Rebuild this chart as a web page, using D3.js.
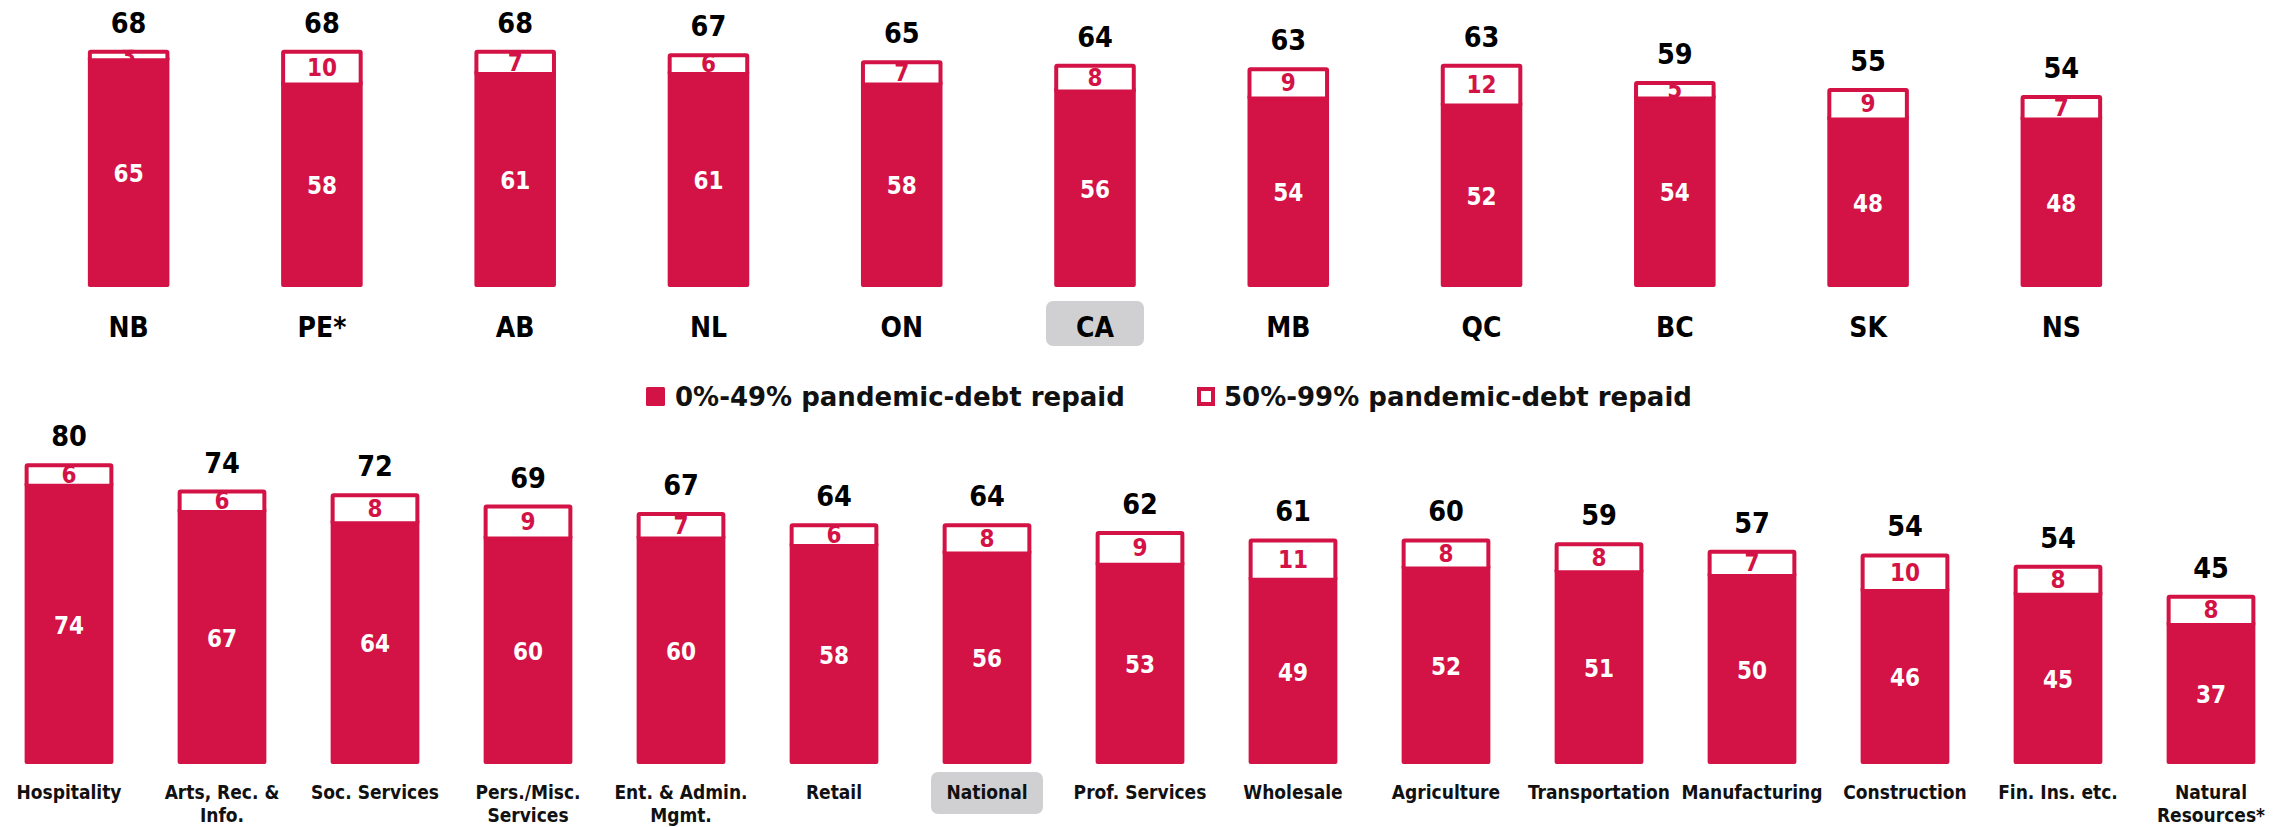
<!DOCTYPE html>
<meta charset="utf-8">
<script src="https://d3js.org/d3.v7.min.js"></script>
<style>
  body { margin: 0; background: #fff; }
  text { font-family: "DejaVu Sans Condensed", "DejaVu Sans", sans-serif; font-stretch: condensed; }
</style>
<div id="chart"></div>
<script>

// provinces (top panel)
const provinces = ["NB", "PE*", "AB", "NL", "ON", "CA", "MB", "QC", "BC", "SK", "NS"];
const provLow   = [65, 58, 61, 61, 58, 56, 54, 52, 54, 48, 48];
const provHigh  = [3, 10, 7, 6, 7, 8, 9, 12, 5, 9, 7];
const provTotal = [68, 68, 68, 67, 65, 64, 63, 63, 59, 55, 54];

// industries (bottom panel)
const industries = ["Hospitality", "Arts, Rec. &\nInfo.", "Soc. Services", "Pers./Misc.\nServices",
  "Ent. & Admin.\nMgmt.", "Retail", "National", "Prof. Services", "Wholesale", "Agriculture",
  "Transportation", "Manufacturing", "Construction", "Fin. Ins. etc.", "Natural\nResources*"];
const indLow   = [74, 67, 64, 60, 60, 58, 56, 53, 49, 52, 51, 50, 46, 45, 37];
const indHigh  = [6, 6, 8, 9, 7, 6, 8, 9, 11, 8, 8, 7, 10, 8, 8];
const indTotal = [80, 74, 72, 69, 67, 64, 64, 62, 61, 60, 59, 57, 54, 54, 45];

const legendLabels = ["0%-49% pandemic-debt repaid", "50%-99% pandemic-debt repaid"];

const W = 2295, H = 827;
const red = "#D31245";
const sw = 4; // outline width of the 50-99% segment

const svg = d3.select("#chart").append("svg")
  .attr("width", W)
  .attr("height", H);

const defs = svg.append("defs");

function drawPanel(o) {
  const x = d3.scaleBand()
    .domain(o.cats)
    .range(o.xRange)
    .paddingInner(o.pad)
    .paddingOuter(o.pad / 2);
  const y = d3.scaleLinear()
    .domain([0, 80])
    .range([o.base, o.base - 80 * o.ppu]);
  const bw = x.bandwidth();

  const rows = o.cats.map((c, i) => ({ cat: c, low: o.low[i], high: o.high[i], total: o.total[i], i: i }));
  const g = svg.append("g");

  // grey box behind the "average" category
  g.append("rect")
    .attr("x", x(o.highlight) + bw / 2 - o.hlW / 2)
    .attr("y", o.hlY)
    .attr("width", o.hlW)
    .attr("height", o.hlH)
    .attr("rx", 7)
    .attr("fill", "#d0d0d2");

  // 0-49% part
  g.selectAll(".low")
    .data(rows)
    .join("rect")
      .attr("x", d => x(d.cat))
      .attr("y", d => y(d.low) - 4)
      .attr("width", bw)
      .attr("height", d => y(0) - y(d.low) + 4)
      .attr("rx", 2)
      .attr("fill", red);

  // 50-99% part, white with red outline
  g.selectAll(".high")
    .data(rows)
    .join("rect")
      .attr("x", d => x(d.cat) + sw / 2)
      .attr("y", d => y(d.low + d.high) + sw / 2)
      .attr("width", bw - sw)
      .attr("height", d => y(d.low) - y(d.low + d.high) - sw / 2)
      .attr("rx", 1)
      .attr("fill", "#fff")
      .attr("stroke", red)
      .attr("stroke-width", sw);

  // clip for the small labels
  rows.forEach(d => {
    defs.append("clipPath")
      .attr("id", o.id + "clip" + d.i)
      .append("rect")
        .attr("x", x(d.cat))
        .attr("y", y(d.low + d.high))
        .attr("width", bw)
        .attr("height", y(d.low) - y(d.low + d.high));
  });

  g.selectAll(".lowLbl")
    .data(rows)
    .join("text")
      .attr("x", d => x(d.cat) + bw / 2)
      .attr("y", d => y(d.low / 2))
      .attr("dy", "0.36em")
      .attr("text-anchor", "middle")
      .attr("fill", "#fff")
      .attr("font-weight", "bold")
      .attr("font-size", o.valSize)
      .text(d => d.low);

  g.selectAll(".highLbl")
    .data(rows)
    .join("text")
      .attr("clip-path", d => `url(#${o.id}clip${d.i})`)
      .attr("x", d => x(d.cat) + bw / 2)
      .attr("y", d => y(d.low + d.high / 2))
      .attr("dy", "0.36em")
      .attr("text-anchor", "middle")
      .attr("fill", red)
      .attr("font-weight", "bold")
      .attr("font-size", o.valSize)
      .text(d => d.high);

  // totals on top
  g.selectAll(".tot")
    .data(rows)
    .join("text")
      .attr("x", d => x(d.cat) + bw / 2)
      .attr("y", d => y(d.low + d.high) - 17)
      .attr("text-anchor", "middle")
      .attr("fill", "#000")
      .attr("font-weight", "bold")
      .attr("font-size", 28.5)
      .text(d => d.total);

  // category labels
  g.selectAll(".cat")
    .data(rows)
    .join("text")
      .attr("x", d => x(d.cat) + bw / 2)
      .attr("y", o.catY)
      .attr("text-anchor", "middle")
      .attr("fill", o.catColor)
      .attr("font-weight", "bold")
      .attr("font-size", o.catSize)
      .each(function(d) {
        const lines = d.cat.split("\n");
        d3.select(this).selectAll("tspan")
          .data(lines)
          .join("tspan")
            .attr("x", x(d.cat) + bw / 2)
            .attr("dy", (l, k) => k === 0 ? 0 : o.lineH)
            .text(l => l);
      });
}

drawPanel({
  id: "prov", cats: provinces, low: provLow, high: provHigh, total: provTotal,
  xRange: [32, 2158], pad: 0.578, base: 287, ppu: 3.49,
  valSize: 24, catSize: 28, catY: 336.5, catColor: "#000", lineH: 26,
  highlight: "CA", hlW: 98, hlH: 45, hlY: 301
});

drawPanel({
  id: "ind", cats: industries, low: indLow, high: indHigh, total: indTotal,
  xRange: [-7.5, 2287.5], pad: 0.42, base: 764, ppu: 3.76,
  valSize: 24, catSize: 19, catY: 798.5, catColor: "#111", lineH: 23.3,
  highlight: "National", hlW: 112, hlH: 42, hlY: 772
});

// legend
const legend = svg.append("g");
legend.append("rect")
  .attr("x", 646).attr("y", 387).attr("width", 19).attr("height", 19)
  .attr("rx", 1.5)
  .attr("fill", red);
legend.append("text")
  .attr("x", 675).attr("y", 406)
  .attr("font-size", 26)
  .attr("font-weight", "bold")
  .style("font-family", "'DejaVu Sans', sans-serif")
  .style("font-stretch", "normal")
  .attr("fill", "#111")
  .text(legendLabels[0]);
legend.append("rect")
  .attr("x", 1197 + sw / 2).attr("y", 387 + sw / 2).attr("width", 18 - sw).attr("height", 19 - sw)
  .attr("fill", "#fff")
  .attr("stroke", red)
  .attr("stroke-width", sw);
legend.append("text")
  .attr("x", 1224).attr("y", 406)
  .attr("font-size", 26)
  .attr("font-weight", "bold")
  .style("font-family", "'DejaVu Sans', sans-serif")
  .style("font-stretch", "normal")
  .attr("fill", "#111")
  .text(legendLabels[1]);

</script>
